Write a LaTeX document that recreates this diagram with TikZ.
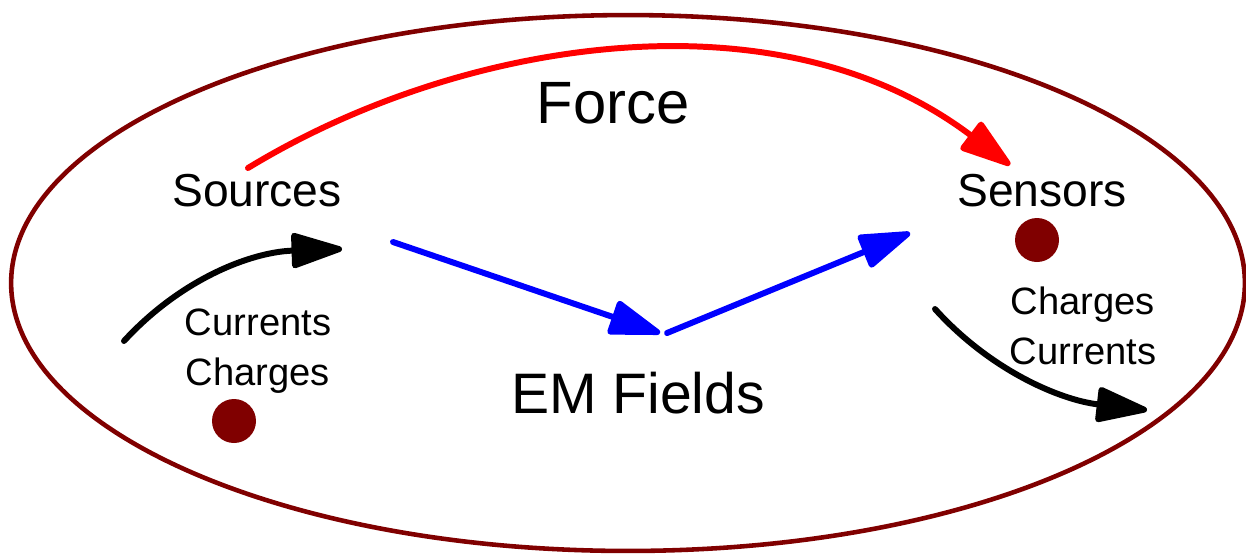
\documentclass[tikz,border=0pt]{standalone}
\usepackage{fontspec}
\setmainfont{Liberation Sans}
\usepackage{xcolor}
\usepackage{tikz}
\usetikzlibrary{arrows.meta}

\definecolor{rimred}{HTML}{800000}

\begin{document}
\begin{tikzpicture}[
    x=0.02cm, y=-0.02cm,
    title/.style={inner sep=0pt, font=\fontsize{33}{38}\selectfont},
    party/.style={inner sep=0pt, font=\fontsize{26.3}{31}\selectfont},
    small/.style={inner sep=0pt, align=center, font=\fontsize{21.7}{28.5}\selectfont},
    dot/.style={circle, fill=rimred, minimum size=0.88cm, inner sep=0pt},
    arrow/.style={-{Triangle[length=1.15cm, width=0.72cm, round]}, line width=3.4pt, line cap=round}
]
\useasboundingbox (0,0) rectangle (1246,556);

% outer boundary
\draw[rimred, line width=2.6pt] (628,283) ellipse [x radius=12.34cm, y radius=5.36cm];

% labels
\node[title, font=\fontsize{34}{38}\selectfont] (force) at (613,103) {Force};
\node[title, font=\fontsize{32.5}{38}\selectfont] (fields) at (638,393) {EM Fields};
\node[party] (sources) at (257,191) {Sources};
\node[party] (sensors) at (1042,191) {Sensors};
\node[small] (srcq) at (258,351) {Currents\\Charges};
\node[small] (senq) at (1083,326) {Charges\\Currents};

% charges
\node[dot] (srcdot) at (234,421) {};
\node[dot] (sendot) at (1037,240) {};

% arrow ends
\coordinate (f0) at (248,168);
\coordinate (f1) at (1010,165);
\coordinate (e0) at (393,242);
\coordinate (e1) at (660,333);
\coordinate (e2) at (667,333);
\coordinate (e3) at (910,233);
\coordinate (l0) at (124,341);
\coordinate (l1) at (342,249);
\coordinate (r0) at (935,309);
\coordinate (r1) at (1147,410);

\draw[arrow, red] (f0) .. controls (458,40) and (776,-12) .. (f1);
\draw[arrow, blue] (e0) -- (e1);
\draw[arrow, blue] (e2) -- (e3);
\draw[arrow] (l0) .. controls (180,280) and (250,252) .. (l1);
\draw[arrow] (r0) .. controls (990,370) and (1060,400) .. (r1);
\end{tikzpicture}
\end{document}
